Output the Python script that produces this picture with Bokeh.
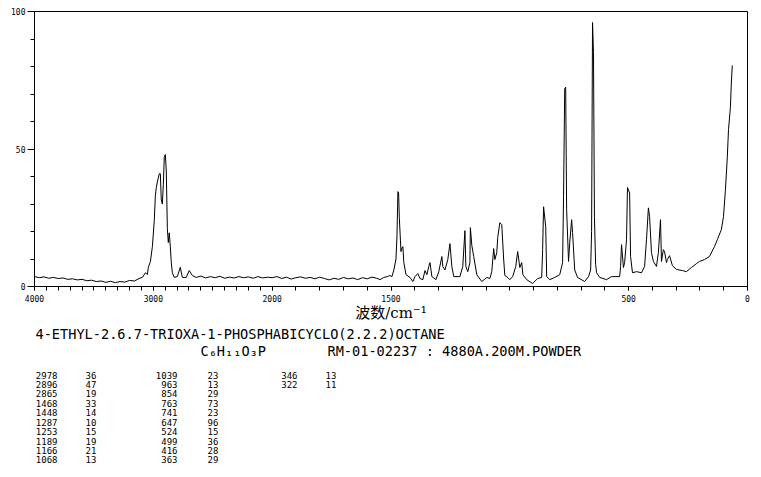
import numpy as np
from bokeh.plotting import figure
from bokeh.models import Range1d, FixedTicker
from bokeh.layouts import column
from bokeh.embed import file_html
from bokeh.resources import INLINE
from bokeh.core.properties import value

# ---------------- data ----------------
wavenumber = [
    4000, 3960, 3920, 3880, 3840, 3800, 3760, 3720, 3680, 3640, 3600, 3560, 3520, 3480,
    3440, 3400, 3360, 3320, 3280, 3240, 3200, 3160, 3120, 3090, 3067, 3050, 3042, 3025,
    3008, 2992, 2983, 2975, 2966, 2950, 2941, 2933, 2924, 2916, 2908, 2899, 2891, 2882,
    2874, 2866, 2857, 2849, 2840, 2824, 2798, 2773, 2756, 2723, 2698, 2672, 2639, 2600,
    2560, 2520, 2480, 2440, 2400, 2360, 2320, 2280, 2240, 2200, 2160, 2120, 2080, 2040,
    2000, 1980, 1960, 1940, 1920, 1900, 1880, 1860, 1840, 1820, 1800, 1780, 1760, 1740,
    1720, 1700, 1680, 1660, 1640, 1620, 1600, 1580, 1560, 1546, 1530, 1515, 1505, 1496,
    1488, 1479, 1475, 1471, 1468, 1465, 1458, 1454, 1450, 1446, 1437, 1420, 1408, 1399,
    1387, 1378, 1366, 1357, 1349, 1341, 1336, 1328, 1311, 1299, 1286, 1282, 1273, 1261,
    1252, 1244, 1236, 1210, 1198, 1189, 1185, 1177, 1168, 1166, 1160, 1152, 1139, 1118,
    1097, 1084, 1076, 1068, 1063, 1055, 1051, 1042, 1034, 1026, 1021, 1009, 1000, 988,
    975, 967, 958, 950, 945, 929, 904, 883, 866, 862, 858, 849, 845, 832,
    811, 790, 778, 774, 769, 765, 761, 753, 748, 740, 736, 727, 715, 685,
    669, 660, 656, 652, 648, 644, 639, 635, 622, 593, 572, 538, 534, 530,
    522, 517, 509, 505, 496, 492, 484, 467, 446, 433, 425, 417, 412, 404,
    396, 383, 375, 366, 362, 354, 349, 341, 337, 328, 316, 299, 274, 257,
    236, 215, 202, 181, 160, 139, 127, 110, 101, 93, 85, 80, 72, 68, 64,
]
intensity = [
    3.6, 3.2, 3.5, 3.0, 3.3, 2.9, 3.1, 2.6, 2.8, 2.4, 2.6, 2.1, 2.3, 1.8,
    2.0, 1.5, 1.9, 1.4, 1.8, 1.6, 2.2, 2.0, 2.9, 3.4, 5.0, 4.4, 7.0, 9.0,
    14.5, 24.0, 33.0, 36.0, 38.0, 41.0, 41.0, 31.5, 30.0, 37.0, 47.0, 48.0, 42.0, 21.0,
    16.0, 19.5, 14.5, 8.7, 5.0, 3.3, 3.6, 7.0, 3.3, 3.3, 5.8, 4.0, 3.3, 3.8,
    3.1, 3.6, 3.2, 3.7, 3.0, 3.4, 3.1, 3.6, 3.2, 3.5, 3.0, 3.6, 3.1, 3.4,
    3.2, 3.6, 2.9, 3.4, 2.7, 3.2, 3.5, 3.0, 3.3, 2.8, 3.4, 2.9, 2.4, 3.0,
    2.6, 3.3, 2.8, 3.1, 2.5, 3.2, 2.8, 3.4, 3.0, 2.5, 3.3, 3.6, 4.0, 3.6,
    6.0, 10.0, 18.0, 34.5, 34.0, 25.0, 12.7, 14.0, 14.5, 8.7, 4.3, 3.3, 1.8, 3.6,
    4.7, 2.9, 2.5, 5.8, 4.3, 7.3, 8.7, 3.6, 2.5, 5.4, 10.9, 7.3, 6.0, 9.8,
    15.6, 7.3, 3.6, 3.6, 7.3, 20.3, 7.3, 5.4, 8.7, 21.4, 15.0, 10.9, 4.3, 1.8,
    3.3, 2.9, 5.4, 13.8, 9.8, 12.3, 17.8, 23.2, 22.5, 10.0, 4.0, 3.3, 2.5, 3.6,
    7.3, 12.7, 6.9, 8.7, 4.3, 2.5, 1.1, 2.9, 3.3, 13.4, 29.0, 21.7, 3.6, 2.5,
    3.3, 4.3, 8.7, 32.6, 72.0, 72.5, 27.9, 9.1, 15.9, 24.3, 19.6, 6.0, 3.3, 1.8,
    3.6, 6.0, 20.0, 96.0, 85.0, 25.0, 8.0, 5.0, 3.3, 2.5, 3.6, 3.6, 7.3, 15.2,
    6.9, 8.7, 17.0, 36.0, 34.0, 10.9, 5.0, 5.4, 5.0, 7.3, 17.0, 28.6, 25.4, 12.3,
    9.1, 7.3, 12.3, 24.3, 9.1, 13.4, 12.7, 8.7, 9.8, 11.2, 7.6, 6.2, 5.8, 5.4,
    6.9, 8.3, 9.1, 9.8, 10.9, 14.5, 17.0, 20.7, 25.4, 35.0, 47.0, 57.0, 65.0, 74.0, 80.4,
]

x_tick_labels = [4000, 3000, 2000, 1500, 500, 0]
y_tick_labels = [0, 50, 100]

axis_title = "波数/cm⁻¹"
compound_name = "4-ETHYL-2.6.7-TRIOXA-1-PHOSPHABICYCLO(2.2.2)OCTANE"
formula = "C₆H₁₁O₃P"
sample_info = "RM-01-02237 : 4880A.200M.POWDER"

peak_wn = [2978, 2896, 2865, 1468, 1448, 1287, 1253, 1189, 1166, 1068,
           1039, 963, 854, 763, 741, 647, 524, 499, 416, 363,
           346, 322]
peak_int = [36, 47, 19, 33, 14, 10, 15, 19, 21, 13,
            23, 13, 29, 73, 23, 96, 15, 36, 28, 29,
            13, 11]


def to_axis(w):
    """Axis scale: above 2000 cm-1 the scale is compressed by half."""
    w = np.asarray(w, dtype=float)
    return np.where(w > 2000, 2000 + (w - 2000) / 2.0, w)


MONO = value("DejaVu Sans Mono")

# ---------------- main spectrum figure ----------------
p = figure(width=761, height=324,
           x_range=Range1d(float(to_axis(4000)), 0), y_range=Range1d(0, 100),
           output_backend="svg", toolbar_location=None,
           min_border_left=34, min_border_right=14, min_border_top=11, min_border_bottom=37)
p.line(to_axis(wavenumber), intensity, line_color="black", line_width=1)

p.xgrid.visible = False
p.ygrid.visible = False
p.outline_line_color = "black"
p.outline_line_alpha = 1.0
p.outline_line_width = 1
p.background_fill_color = "white"
p.border_fill_color = "white"

minor_x = [float(v) for v in to_axis(np.arange(0, 4001, 100))]
major_x = [float(v) for v in to_axis(x_tick_labels)]
p.xaxis.ticker = FixedTicker(ticks=major_x, minor_ticks=minor_x)
p.xaxis.major_label_overrides = {int(u): str(w) for u, w in zip(major_x, x_tick_labels)}
p.xaxis.major_tick_out = 4
p.xaxis.major_tick_in = 0
p.xaxis.minor_tick_out = 4
p.xaxis.minor_tick_in = 0
p.xaxis.major_label_standoff = 4
p.xaxis.axis_label = axis_title
p.xaxis.axis_label_text_font = "DejaVu Serif, Noto Sans CJK SC"
p.xaxis.axis_label_text_font_size = "15px"
p.xaxis.axis_label_text_font_style = "normal"
p.xaxis.axis_label_text_color = "black"
p.xaxis.axis_label_standoff = -1

p.yaxis.ticker = FixedTicker(ticks=y_tick_labels, minor_ticks=list(range(0, 101, 10)))
p.yaxis.major_tick_out = 7
p.yaxis.major_tick_in = 0
p.yaxis.minor_tick_out = 4
p.yaxis.minor_tick_in = 0
p.yaxis.major_label_standoff = 2

for ax in (p.xaxis, p.yaxis):
    ax.axis_line_color = "black"
    ax.major_tick_line_color = "black"
    ax.minor_tick_line_color = "black"
    ax.major_label_text_color = "black"
    ax.major_label_text_font = "DejaVu Sans Mono"
    ax.major_label_text_font_size = "8px"

# ---------------- text block below (coordinates = page pixels) ----------------
# the column layout aligns this frame with the spectrum frame (page x 34..747)
t = figure(width=761, height=153, x_range=Range1d(34, 747), y_range=Range1d(477, 324),
           output_backend="svg", toolbar_location=None,
           min_border_left=34, min_border_right=14, min_border_top=0, min_border_bottom=0)
t.axis.visible = False
t.grid.visible = False
t.outline_line_color = None
t.border_fill_color = "white"

t.text(x=[35], y=[333.5], text=[compound_name], text_font=MONO, text_font_size="13.6px",
       text_baseline="middle", text_align="left", text_color="black")
t.text(x=[200], y=[350], text=[formula], text_font=MONO, text_font_size="13.6px",
       text_baseline="middle", text_align="left", text_color="black")
t.text(x=[327], y=[350], text=[sample_info], text_font=MONO, text_font_size="13.6px",
       text_baseline="middle", text_align="left", text_color="black")

row_y = [374.5 + 9.44 * i for i in range(10)]
columns = [
    (peak_wn[0:10], 57, "right"), (peak_int[0:10], 85, "left"),
    (peak_wn[10:20], 177, "right"), (peak_int[10:20], 207, "left"),
    (peak_wn[20:22], 297, "right"), (peak_int[20:22], 325, "left"),
]
for vals, xpos, align in columns:
    n = len(vals)
    t.text(x=[xpos] * n, y=row_y[:n], text=[str(v) for v in vals], text_font=MONO,
           text_font_size="9px", text_baseline="middle", text_align=align, text_color="black")

layout = column(p, t, spacing=0)
open("out.html", "w").write(file_html(layout, INLINE))
